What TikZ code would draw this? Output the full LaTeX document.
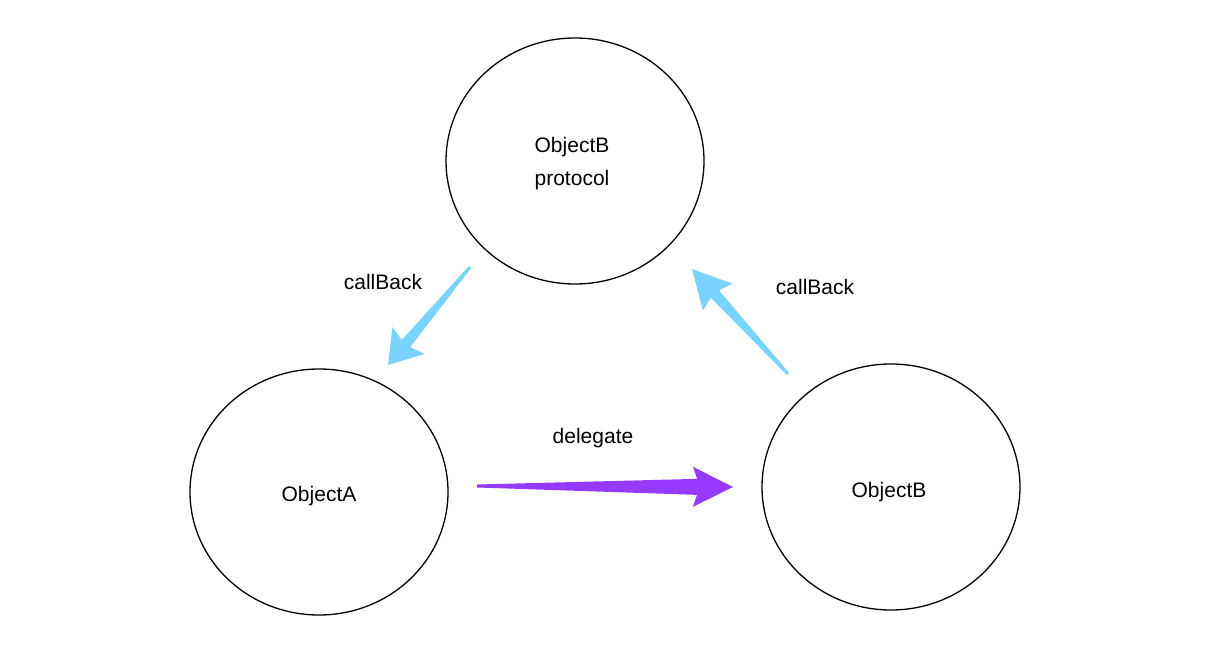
\documentclass[tikz,border=0pt]{standalone}
\usepackage{fontspec}
\setmainfont{Liberation Sans}
\usetikzlibrary{shapes.geometric,calc}
\definecolor{cbblue}{RGB}{122,211,252}
\definecolor{dgpurple}{RGB}{151,58,255}
\tikzset{
  objcircle/.style={ellipse, draw, line width=1.3pt, minimum width=258pt, minimum height=246pt},
  lbl/.style={font=\fontsize{21}{33}\selectfont, align=center}
}
% tapered arrow: style, from, to, tail half-width, shaft half-width, barb half-width, head length, barb offset
\newcommand{\taperarrow}[8]{%
  \coordinate (hb) at ($(#3)!#7!(#2)$);
  \coordinate (nb) at ($(#3)!#8!(#2)$);
  \fill[#1] ($(#2)!#4!90:(#3)$) -- ($(hb)!#5!90:(#3)$) -- ($(nb)!#6!90:(#3)$) -- (#3)
    -- ($(nb)!#6!-90:(#3)$) -- ($(hb)!#5!-90:(#3)$) -- ($(#2)!#4!-90:(#3)$) -- cycle;
}
\begin{document}
\begin{tikzpicture}[x=1pt,y=-1pt]
\useasboundingbox (0,0) rectangle (1223,663);
\node[objcircle] (proto) at (575,161) {};
\node[objcircle] (objA) at (319,492) {};
\node[objcircle] (objB) at (891,487) {};
\node[lbl] (protoT) at (572,164) {ObjectB\\protocol};
\node[lbl] (objAT) at (319,496) {ObjectA};
\node[lbl] (objBT) at (889,492) {ObjectB};
\node[lbl] (cbA) at (383,282) {callBack};
\node[lbl] (cbB) at (815,287) {callBack};
\node[lbl] (dlg) at (593,438) {delegate};
% arrows
\coordinate (dlgs) at (477,486);
\coordinate (dlge) at (733,487);
\coordinate (cbAs) at (470,267);
\coordinate (cbAe) at (388,365);
\coordinate (cbBs) at (788,374);
\coordinate (cbBe) at (692,269);
\taperarrow{dgpurple}{dlgs}{dlge}{1.5pt}{8pt}{20pt}{36pt}{40pt}
\taperarrow{cbblue}{cbAs}{cbAe}{1.5pt}{5.5pt}{21pt}{28pt}{32pt}
\taperarrow{cbblue}{cbBs}{cbBe}{1.5pt}{5.5pt}{20pt}{34pt}{38pt}
\end{tikzpicture}
\end{document}
